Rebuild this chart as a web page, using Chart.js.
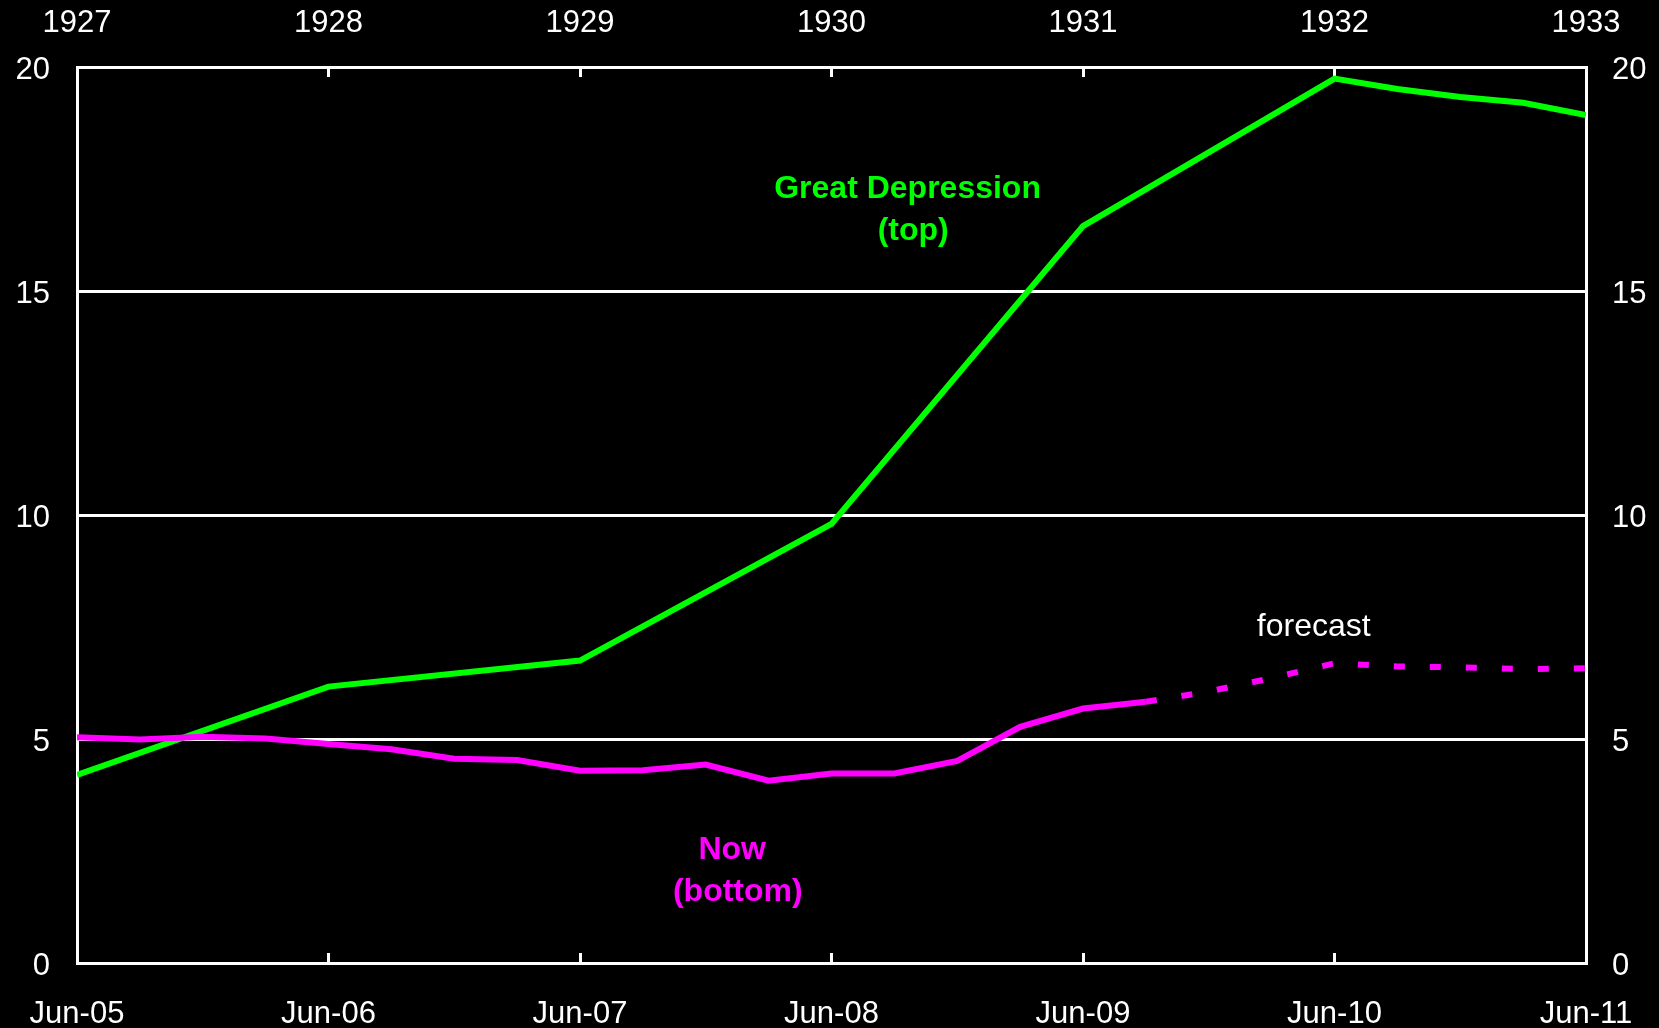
<!DOCTYPE html>
<html>
<head>
<meta charset="utf-8">
<script src="https://cdn.jsdelivr.net/npm/chart.js@4.4.1/dist/chart.umd.min.js"></script>
<style>
  html, body { margin: 0; padding: 0; background: #000; }
  #wrap { width: 1659px; height: 1028px; position: relative; }
</style>
</head>
<body>
<div id="wrap"><canvas id="unempChart"></canvas></div>
<script>
// tick labels (one per year, x axis runs in quarters)
var juneLabels = ['Jun-05', 'Jun-06', 'Jun-07', 'Jun-08', 'Jun-09', 'Jun-10', 'Jun-11'];
var yearLabels = ['1927', '1928', '1929', '1930', '1931', '1932', '1933'];

// Great Depression (top) - quarter index and value
var gdQuarters = [0, 4, 8, 12, 16, 20, 21, 22, 23, 24];
var gdValues = [4.2, 6.17, 6.75, 9.8, 16.45, 19.74, 19.51, 19.33, 19.2, 18.93];

// Now (bottom) - actual
var nowQuarters = [0, 1, 2, 3, 4, 5, 6, 7, 8, 9, 10, 11, 12, 13, 14, 15, 16, 17];
var nowValues = [5.04, 4.99, 5.05, 5.01, 4.89, 4.77, 4.56, 4.53, 4.29, 4.3, 4.43, 4.07, 4.23, 4.23, 4.51, 5.27, 5.68, 5.83];

// Now - forecast (dashed)
var forecastQuarters = [17, 18, 19, 20, 21, 22, 23, 24];
var forecastValues = [5.83, 6.06, 6.36, 6.69, 6.62, 6.6, 6.56, 6.58];

var green = '#00ff00';
var magenta = '#ff00ff';
var fontFamily = '"Liberation Sans", Arial, sans-serif';

function toPoints(xs, ys) {
    return xs.map(function(x, i) { return { x: x, y: ys[i] }; });
}

// free text labels, positioned in data units
var notes = [
    { text: 'Great Depression', x: 13.21, y: 17.07, color: green, bold: true },
    { text: '(top)', x: 13.3, y: 16.14, color: green, bold: true },
    { text: 'Now', x: 10.42, y: 2.32, color: magenta, bold: true },
    { text: '(bottom)', x: 10.51, y: 1.38, color: magenta, bold: true },
    { text: 'forecast', x: 19.67, y: 7.3, color: '#fff', bold: false }
];

var notesPlugin = {
    id: 'notes',
    afterDatasetsDraw: function(chart) {
        var ctx = chart.ctx;
        var xs = chart.scales.x, ys = chart.scales.y;
        ctx.save();
        ctx.textAlign = 'center';
        ctx.textBaseline = 'alphabetic';
        notes.forEach(function(n) {
            ctx.font = (n.bold ? 'bold ' : '') + '32px ' + fontFamily;
            ctx.fillStyle = n.color;
            ctx.fillText(n.text, xs.getPixelForValue(n.x), ys.getPixelForValue(n.y));
        });
        ctx.restore();
    }
};

var tickFont = { family: fontFamily, size: 31 };

var xCommon = {
    type: 'linear',
    min: 0,
    max: 24,
    border: { display: true, color: '#fff', width: 3 },
    // short ticks pointing into the plot
    grid: { drawOnChartArea: false, drawTicks: true, tickLength: -10, color: '#fff', lineWidth: 3 }
};

// fixed axis sizes, and no extra side padding for the edge labels
function fixHeight(h) {
    return function(s) {
        s.height = h;
        s.paddingLeft = 0;
        s.paddingRight = 0;
    };
}

var ctx = document.getElementById('unempChart').getContext('2d');
new Chart(ctx, {
    type: 'line',
    data: {
        datasets: [{
            label: 'Now',
            data: toPoints(nowQuarters, nowValues),
            borderColor: magenta,
            borderWidth: 6,
            pointRadius: 0,
            tension: 0
        }, {
            label: 'Forecast',
            data: toPoints(forecastQuarters, forecastValues),
            borderColor: magenta,
            borderWidth: 6,
            borderDash: [11, 25],
            pointRadius: 0,
            tension: 0
        }, {
            label: 'Great Depression',
            data: toPoints(gdQuarters, gdValues),
            borderColor: green,
            borderWidth: 6,
            pointRadius: 0,
            tension: 0
        }]
    },
    options: {
        responsive: true,
        maintainAspectRatio: false,
        animation: false,
        layout: { padding: 0 },
        plugins: {
            legend: { display: false },
            tooltip: { enabled: false }
        },
        scales: {
            x: Object.assign({}, xCommon, {
                position: 'bottom',
                ticks: {
                    stepSize: 4,
                    padding: 43,
                    color: '#fff',
                    font: tickFont,
                    maxRotation: 0,
                    callback: function(v) { return juneLabels[v / 4]; }
                },
                afterFit: fixHeight(65)
            }),
            x2: Object.assign({}, xCommon, {
                position: 'top',
                ticks: {
                    stepSize: 4,
                    padding: 35,
                    color: '#fff',
                    font: tickFont,
                    maxRotation: 0,
                    callback: function(v) { return yearLabels[v / 4]; }
                },
                afterFit: fixHeight(67)
            }),
            y: {
                position: 'left',
                min: 0,
                max: 20,
                border: { display: true, color: '#fff', width: 3 },
                grid: { color: '#fff', lineWidth: 3, drawTicks: false },
                ticks: { stepSize: 5, padding: 27, labelOffset: 3, color: '#fff', font: tickFont },
                afterFit: function(s) { s.width = 77; }
            },
            y2: {
                position: 'right',
                min: 0,
                max: 20,
                border: { display: true, color: '#fff', width: 3 },
                grid: { drawOnChartArea: false, drawTicks: false },
                ticks: { stepSize: 5, padding: 26, labelOffset: 3, color: '#fff', font: tickFont },
                afterFit: function(s) { s.width = 73; }
            }
        }
    },
    plugins: [notesPlugin]
});
</script>
</body>
</html>
